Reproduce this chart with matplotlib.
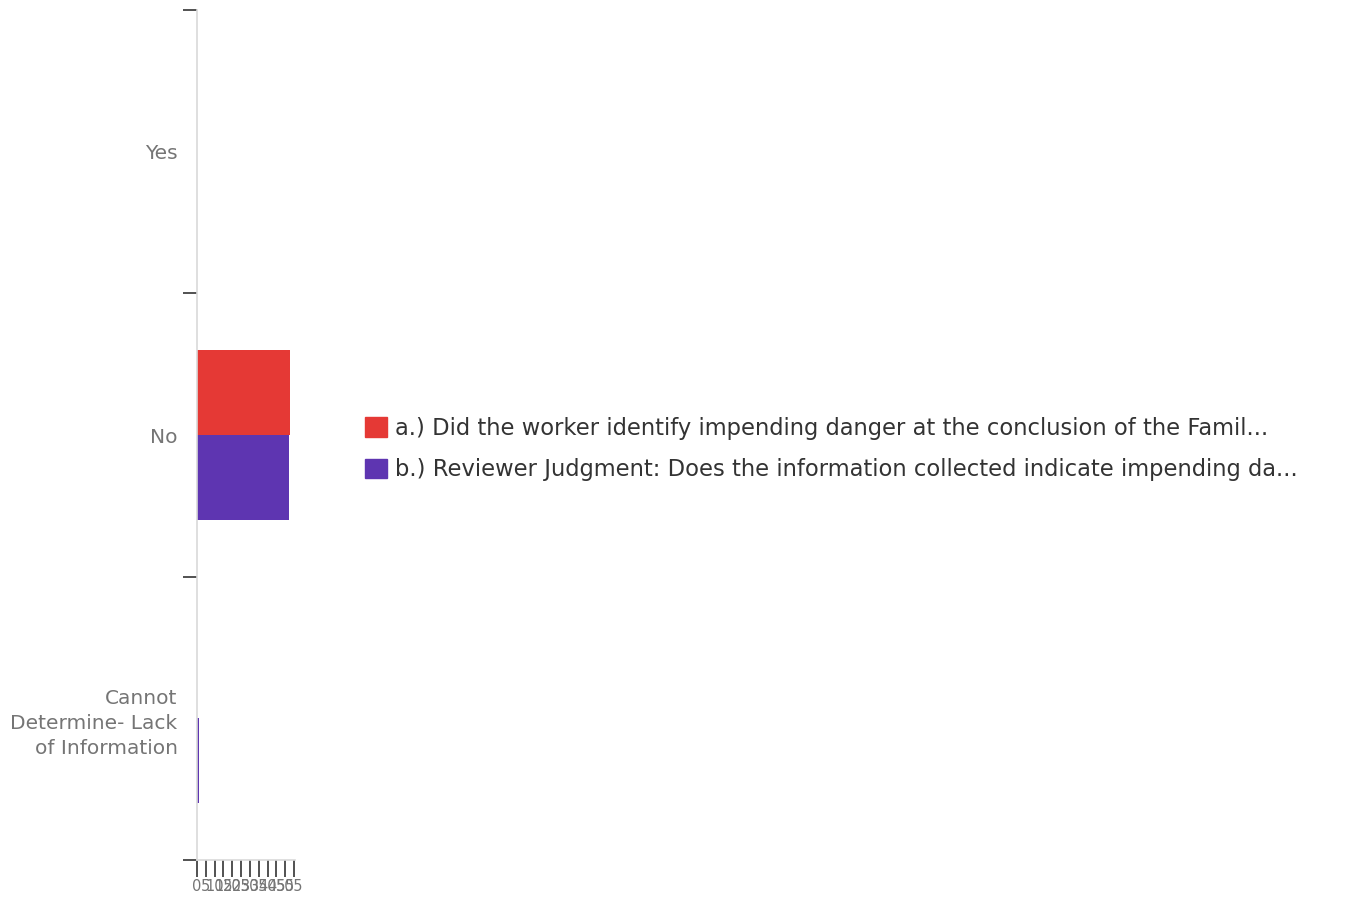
import numpy as np
import matplotlib
matplotlib.use("Agg")
import matplotlib.pyplot as plt
from matplotlib.patches import Patch

# ── Data ──────────────────────────────────────────────────────────────────────
categories = ["Yes", "No", "Cannot\nDetermine- Lack\nof Information"]
series_names = [
    "a.) Did the worker identify impending danger at the conclusion of the Famil...",
    "b.) Reviewer Judgment: Does the information collected indicate impending da...",
]
worker_counts = [0, 53, 0]
reviewer_counts = [0, 52, 1]
x_ticks = list(range(0, 56, 5))

RED = "#E53935"
PURPLE = "#5E35B1"
GRID = "#D9D9D9"
LABEL = "#757575"

plt.rcParams["font.family"] = ["DejaVu Sans"]

fig = plt.figure(figsize=(13.57, 8.97), dpi=100)
ax = fig.add_axes([197 / 1357, 1 - 860 / 897, 98 / 1357, 850 / 897])

y = np.arange(len(categories))
h = 0.3
ax.barh(y - h / 2, worker_counts, height=h, color=RED, label=series_names[0])
ax.barh(y + h / 2, reviewer_counts, height=h, color=PURPLE, label=series_names[1])

ax.set_ylim(2.5, -0.5)
ax.set_xlim(0, 55.6)

# category labels sit between the boundary ticks
ax.set_yticks(y)
ax.set_yticklabels(categories, fontsize=14.5, color=LABEL, linespacing=1.4)
ax.tick_params(axis="y", length=0, pad=14)
ax.set_yticks([-0.5, 0.5, 1.5, 2.5], minor=True)
ax.tick_params(axis="y", which="minor", length=10, width=1.2, color="#333333")

ax.set_xticks(x_ticks)
ax.set_xticklabels([str(t) for t in x_ticks], fontsize=10.5, color=LABEL)
ax.tick_params(axis="x", length=12, width=1.2, color="#333333", pad=2)

for side in ["top", "right"]:
    ax.spines[side].set_visible(False)
for side in ["left", "bottom"]:
    ax.spines[side].set_color(GRID)
    ax.spines[side].set_linewidth(1.2)

handles = [Patch(color=RED), Patch(color=PURPLE)]
fig.legend(handles, series_names, loc="center left",
           bbox_to_anchor=(345 / 1357, 1 - 449 / 897), frameon=False,
           fontsize=16.3, handlelength=0.95, handleheight=0.95,
           handletextpad=0.35, labelspacing=0.8, labelcolor="#333333")

fig.savefig("out.png", dpi=100, facecolor="white")
